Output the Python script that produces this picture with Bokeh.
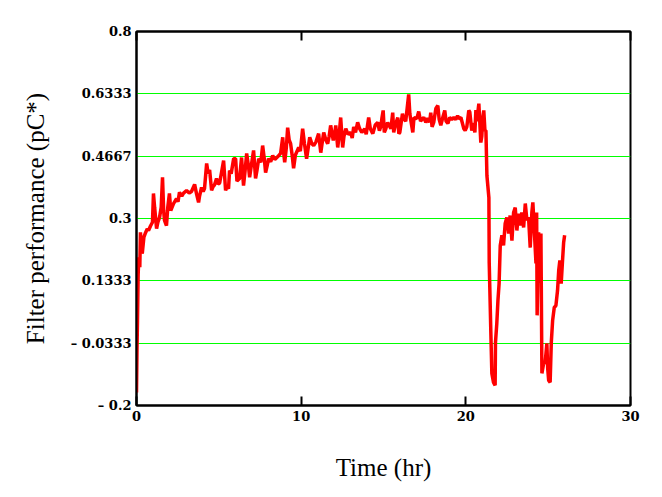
from bokeh.plotting import figure
from bokeh.models import FixedTicker, LinearAxis, Range1d
from bokeh.embed import file_html
from bokeh.resources import INLINE

# Time (hr)
time_hr = [
    0.0, 0.03, 0.06, 0.1, 0.14, 0.2, 0.24, 0.3, 0.35, 0.45, 0.55, 0.65, 0.73, 0.85,
    0.97, 1.03, 1.1, 1.22, 1.3, 1.4, 1.5, 1.58, 1.65, 1.7, 1.82, 1.9, 2.0, 2.08, 2.25,
    2.43, 2.52, 2.61, 2.75, 2.86, 3.04, 3.2, 3.34, 3.53, 3.65, 3.77, 3.83, 3.95, 4.05,
    4.13, 4.26, 4.35, 4.44, 4.56, 4.65, 4.74, 4.86, 4.95, 5.05,
    5.29, 5.41, 5.5, 5.59, 5.65, 5.75, 5.9, 6.02, 6.1, 6.26, 6.38, 6.5, 6.6, 6.69, 6.8,
    6.87, 7.0, 7.11, 7.23, 7.32, 7.42, 7.55, 7.66, 7.76, 7.84, 7.93, 8.02, 8.15, 8.27,
    8.4, 8.57, 8.75, 8.88, 8.95, 9.0, 9.1, 9.18, 9.27, 9.36, 9.45, 9.54, 9.65, 9.85,
    9.95, 10.09, 10.2, 10.33, 10.43, 10.52, 10.65, 10.76, 10.9, 11.06, 11.19, 11.3,
    11.37, 11.5, 11.61, 11.7, 11.79,
    11.95, 12.05, 12.1, 12.22, 12.3, 12.4, 12.52, 12.6, 12.71, 12.85, 13.01, 13.1,
    13.19, 13.3, 13.43, 13.55, 13.68, 13.86, 13.95, 14.1, 14.2, 14.35, 14.5, 14.65,
    14.75, 14.83, 14.9, 14.98, 15.05, 15.14, 15.25, 15.32, 15.45, 15.56, 15.62, 15.74,
    15.87, 15.93, 15.99, 16.15, 16.23, 16.35, 16.53, 16.6, 16.66, 16.78, 16.85, 17.02,
    17.14, 17.25, 17.33, 17.45, 17.57, 17.69, 17.8, 17.87, 17.95, 18.05, 18.18, 18.3,
    18.38, 18.48, 18.6, 18.72, 18.8, 18.91, 19.02, 19.15, 19.27, 19.39, 19.5, 19.57,
    19.7, 19.76, 19.88, 19.96, 20.06, 20.18, 20.24, 20.36, 20.45, 20.55, 20.61, 20.67,
    20.79, 20.91, 20.97, 21.03, 21.09, 21.16, 21.22, 21.28,
    21.4, 21.42, 21.52, 21.58, 21.68, 21.78, 21.8, 21.88, 21.95, 22.02, 22.09, 22.19,
    22.29, 22.39, 22.49, 22.6, 22.69, 22.8, 22.9, 23.0, 23.1, 23.2, 23.3, 23.4, 23.51,
    23.61, 23.71, 23.81, 23.91, 24.01, 24.07, 24.15, 24.26, 24.3, 24.33, 24.42, 24.52,
    24.56, 24.62, 24.72, 24.82, 24.92, 24.97, 25.03, 25.12, 25.19, 25.27, 25.37, 25.47,
    25.57, 25.64, 25.71, 25.79, 25.88, 25.94, 26.0,
]

# Filter performance (pC*)
performance = [
    -0.165, -0.05, 0.027, 0.15, 0.196, 0.17, 0.263, 0.22, 0.206, 0.25, 0.262, 0.272,
    0.268, 0.28, 0.29, 0.367, 0.33, 0.273, 0.29, 0.303, 0.33, 0.41, 0.32, 0.295, 0.281,
    0.33, 0.367, 0.321, 0.34, 0.353, 0.345, 0.37, 0.36, 0.368, 0.375, 0.368, 0.372,
    0.391, 0.365, 0.343, 0.36, 0.383, 0.372, 0.38, 0.447, 0.42, 0.43, 0.375, 0.385,
    0.39, 0.407, 0.392, 0.395,
    0.455, 0.375, 0.385, 0.38, 0.428, 0.42, 0.46, 0.46, 0.40, 0.407, 0.463, 0.388,
    0.43, 0.474, 0.44, 0.41, 0.45, 0.482, 0.407, 0.43, 0.46, 0.45, 0.495, 0.46, 0.423,
    0.44, 0.46, 0.452, 0.468, 0.458, 0.465, 0.474, 0.517, 0.47, 0.45, 0.49, 0.543,
    0.51, 0.50, 0.47, 0.434, 0.47, 0.49, 0.48, 0.54, 0.50, 0.46, 0.49, 0.517, 0.50,
    0.495, 0.505, 0.527, 0.476, 0.51, 0.53, 0.51, 0.50, 0.52, 0.549,
    0.509, 0.53, 0.549, 0.49, 0.52, 0.57, 0.49, 0.52, 0.54, 0.525, 0.53, 0.515, 0.545,
    0.53, 0.557, 0.54, 0.53, 0.54, 0.525, 0.57, 0.54, 0.527, 0.55, 0.557, 0.535, 0.545,
    0.567, 0.589, 0.53, 0.54, 0.557, 0.55, 0.54, 0.583, 0.53, 0.554, 0.57, 0.527, 0.53,
    0.58, 0.567, 0.56, 0.632, 0.58, 0.562, 0.53, 0.57, 0.567, 0.586, 0.56, 0.565, 0.57,
    0.557, 0.568, 0.557, 0.583, 0.545, 0.557, 0.594, 0.602, 0.565, 0.549, 0.57, 0.589,
    0.56, 0.554, 0.57, 0.565, 0.57, 0.565, 0.575, 0.567, 0.57, 0.56, 0.54, 0.535,
    0.545, 0.589, 0.585, 0.535, 0.555, 0.53, 0.59, 0.56, 0.607, 0.503, 0.52, 0.57,
    0.589, 0.535, 0.535, 0.415,
    0.356, 0.182, -0.007, -0.114, -0.138, -0.146, -0.032, 0.019, 0.081, 0.126, 0.228,
    0.255, 0.228, 0.287, 0.303, 0.26, 0.308, 0.241, 0.316, 0.329, 0.268, 0.313, 0.281,
    0.316, 0.276, 0.34, 0.295, 0.303, 0.222, 0.316, 0.343, 0.276, 0.18, 0.316, 0.041,
    0.263, 0.129, 0.26, -0.114, -0.088, -0.085, -0.034, -0.1, -0.133, -0.138, -0.032,
    0.027, 0.062, 0.067, 0.108, 0.161, 0.188, 0.126, 0.193, 0.236, 0.255,
]

x_ticks = [0, 10, 20, 30]
y_ticks = [-0.2, -0.0333, 0.1333, 0.3, 0.4667, 0.6333, 0.8]
y_tick_labels = ["\u2013 0.2", "\u2013 0.0333", "0.1333", "0.3", "0.4667", "0.6333", "0.8"]

SERIF = "Liberation Serif"
TICKFONT = "DejaVu Serif"

p = figure(width=646, height=489, output_backend="svg", toolbar_location=None,
           x_range=Range1d(0, 30), y_range=Range1d(-0.2, 0.8),
           min_border_left=136, min_border_top=31, min_border_right=16,
           min_border_bottom=84)
p.background_fill_color = "white"
p.border_fill_color = "white"
p.outline_line_color = "black"
p.outline_line_width = 2

p.xgrid.visible = False
p.ygrid.ticker = FixedTicker(ticks=y_ticks)
p.ygrid.grid_line_color = "#00ff00"
p.ygrid.grid_line_width = 1

p.line(time_hr, performance, line_color="#ff0000", line_width=3.5)

xa = p.xaxis[0]
xa.ticker = FixedTicker(ticks=x_ticks)
xa.axis_label = "Time (hr)"
xa.axis_label_text_font = SERIF
xa.axis_label_text_font_size = "25px"
xa.axis_label_text_font_style = "normal"
xa.axis_label_text_color = "black"
xa.axis_label_standoff = 30
xa.major_label_text_font = TICKFONT
xa.major_label_text_font_size = "13px"
xa.major_label_text_font_style = "bold"
xa.major_label_text_color = "black"
xa.major_label_standoff = 5
xa.major_tick_in = 9
xa.major_tick_out = 0
xa.major_tick_line_width = 2
xa.minor_tick_line_color = None
xa.axis_line_width = 2

ya = p.yaxis[0]
ya.ticker = FixedTicker(ticks=y_ticks)
ya.major_label_overrides = {t: l for t, l in zip(y_ticks, y_tick_labels)}
ya.axis_label = "Filter performance (pC*)"
ya.axis_label_text_font = SERIF
ya.axis_label_text_font_size = "25px"
ya.axis_label_text_font_style = "normal"
ya.axis_label_text_color = "black"
ya.axis_label_standoff = 19
ya.major_label_text_font = TICKFONT
ya.major_label_text_font_size = "13px"
ya.major_label_text_font_style = "bold"
ya.major_label_text_color = "black"
ya.major_label_standoff = 5
ya.major_tick_in = 0
ya.major_tick_out = 0
ya.minor_tick_line_color = None
ya.axis_line_width = 2

top = LinearAxis(ticker=FixedTicker(ticks=x_ticks), major_label_text_color=None,
                 major_tick_in=9, major_tick_out=0, major_tick_line_width=2,
                 minor_tick_line_color=None, axis_line_width=2,
                 major_label_text_font_size="1px", major_label_standoff=0)
p.add_layout(top, "above")

open("out.html", "w").write(file_html(p, INLINE))
